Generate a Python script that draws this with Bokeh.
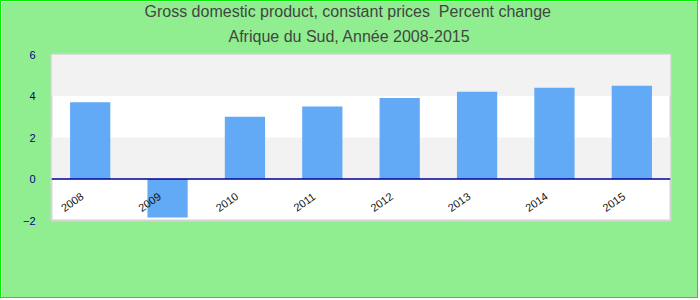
import math
from bokeh.plotting import figure
from bokeh.models import FactorRange, BoxAnnotation, Span, Title, FixedTicker
from bokeh.core.properties import value
from bokeh.embed import file_html
from bokeh.resources import INLINE

years = ["2008", "2009", "2010", "2011", "2012", "2013", "2014", "2015"]
growth = [3.7, -1.85, 3.0, 3.5, 3.9, 4.2, 4.4, 4.5]
y_ticks = [-2, 0, 2, 4, 6]
title1 = "Gross domestic product, constant prices\u00a0 Percent change"
title2 = "Afrique du Sud, Année 2008-2015"

FONT = "Liberation Sans"

p = figure(width=698, height=298, x_range=FactorRange(*years, range_padding=0),
           y_range=(-2, 6), output_backend="svg", toolbar_location=None, title=None,
           min_border_left=50, min_border_right=29, min_border_top=53, min_border_bottom=79)
p.styles = {"border": "1px solid #00ee00"}
p.background_fill_color = "white"
p.border_fill_color = "#90EE90"
p.outline_line_color = "#d4d4d4"
p.outline_line_width = 2
p.grid.visible = False

for lo, hi in [(4, 6), (0, 2)]:
    p.add_layout(BoxAnnotation(bottom=lo, top=hi, fill_color="#f2f2f2", fill_alpha=1,
                               line_alpha=0, level="underlay"))

p.vbar(x=years, top=growth, width=0.52, fill_color="#62aaf5", line_color=None)

p.add_layout(Span(location=0, dimension="width", line_color="#00009a", line_width=1.5))

p.text(x=years, y=[0] * len(years), text=years, angle=math.radians(35),
       x_offset=-18, y_offset=23, text_align="center", text_baseline="middle",
       text_font=value(FONT), text_font_size="11px", text_color="#111111")

p.xaxis.visible = False
p.yaxis.ticker = FixedTicker(ticks=y_ticks)
p.yaxis.axis_line_color = None
p.yaxis.major_tick_line_color = None
p.yaxis.minor_tick_line_color = None
p.yaxis.major_label_standoff = 10
p.yaxis.major_label_text_color = "#00008b"
p.yaxis.major_label_text_font = FONT
p.yaxis.major_label_text_font_size = "11px"

for txt, so, off in [(title2, 20, 177), (title1, -8, 93)]:
    p.add_layout(Title(text=txt, align="left", offset=off, standoff=so,
                       text_font=FONT, text_font_size="16px", text_font_style="normal",
                       text_color="#444444"), "above")

open("out.html", "w").write(file_html(p, INLINE))
